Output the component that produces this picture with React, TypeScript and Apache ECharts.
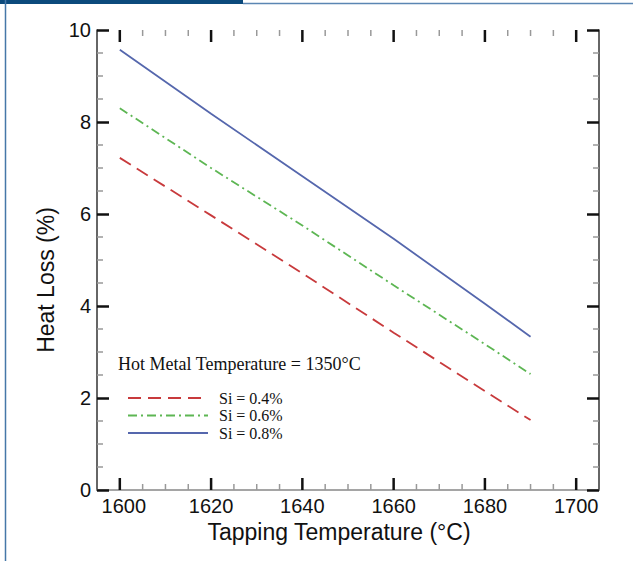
import React, { useEffect, useRef } from "react";
import * as echarts from "echarts";

// Tapping temperature (°C) sample points
const temps = [1600, 1620, 1640, 1660, 1680, 1690];
// Heat loss (%) for each silicon content
const si04 = [7.22, 5.97, 4.71, 3.42, 2.15, 1.52];
const si06 = [8.3, 7.0, 5.75, 4.45, 3.17, 2.52];
const si08 = [9.57, 8.18, 6.82, 5.46, 4.05, 3.33];

const seriesNames = ["Si = 0.4%", "Si = 0.6%", "Si = 0.8%"];
const legendTitle = "Hot Metal Temperature = 1350°C";

const X_MIN = 1595;
const X_MAX = 1705;
const Y_MIN = 0;
const Y_MAX = 10;
const xMajorTicks = [1600, 1620, 1640, 1660, 1680, 1700];
const xMinorTicks = [
  1605, 1610, 1615, 1625, 1630, 1635, 1645, 1650, 1655, 1665, 1670, 1675, 1685,
  1690, 1695,
];

const SANS = "'Liberation Sans', Arial, Helvetica, sans-serif";
const SERIF = "'Liberation Serif', 'Times New Roman', serif";

export default function App() {
  const ref = useRef<HTMLDivElement>(null);

  useEffect(() => {
    if (!ref.current) return;
    const chart = echarts.init(ref.current, undefined, { renderer: "svg" });

    const pair = (ys: number[]) => temps.map((t, i) => [t, ys[i]]);
    const tickData = [
      ...xMajorTicks.map((v) => [v, 1]),
      ...xMinorTicks.map((v) => [v, 0]),
    ];

    const yAxisBase = {
      type: "value",
      min: Y_MIN,
      max: Y_MAX,
      interval: 2,
      splitLine: { show: false },
      axisLine: { show: true, lineStyle: { color: "#333", width: 1.5 } },
      axisTick: {
        show: true,
        inside: true,
        length: 12,
        lineStyle: { color: "#111", width: 2.5 },
      },
      minorTick: {
        show: true,
        splitNumber: 4,
        length: 6,
        lineStyle: { color: "#999", width: 1.5 },
      },
    };

    chart.setOption({
      animation: false,
      backgroundColor: "#fff",
      grid: { left: 97, right: 34, top: 30, bottom: 71, containLabel: false },
      graphic: [
        {
          type: "rect",
          shape: { x: 0, y: 0, width: 243, height: 4 },
          style: { fill: "#0c4a7c" },
          silent: true,
        },
        {
          type: "line",
          shape: { x1: 243, y1: 3.5, x2: 633, y2: 3.5 },
          style: { stroke: "#5b86b3", lineWidth: 1.5 },
          silent: true,
        },
        {
          type: "line",
          shape: { x1: 5.5, y1: 0, x2: 5.5, y2: 561 },
          style: { stroke: "#4577a8", lineWidth: 1.5 },
          silent: true,
        },
        {
          type: "text",
          left: 118,
          top: 355,
          style: {
            text: legendTitle,
            font: `18px ${SERIF}`,
            fill: "#111",
          },
          silent: true,
        },
      ],
      legend: {
        data: seriesNames,
        orient: "vertical",
        left: 127,
        top: 390,
        itemWidth: 80,
        itemHeight: 14,
        itemGap: 1.5,
        padding: 0,
        selectedMode: false,
        itemStyle: {
          color: "transparent",
          borderColor: "transparent",
          borderWidth: 0,
          opacity: 0,
        },
        textStyle: {
          fontFamily: SERIF,
          fontSize: 16,
          color: "#111",
          lineHeight: 16,
          padding: [0, 0, 0, 6],
        },
      },
      xAxis: [
        {
          type: "value",
          min: X_MIN,
          max: X_MAX,
          position: "bottom",
          name: "Tapping Temperature (°C)",
          nameLocation: "middle",
          nameGap: 27,
          nameTextStyle: {
            fontFamily: SANS,
            fontSize: 23,
            color: "#111",
            padding: [0, 18, 0, 0],
          },
          splitLine: { show: false },
          axisLine: { show: true, lineStyle: { color: "#333", width: 1.5 } },
          axisTick: { show: false },
          axisLabel: {
            fontFamily: SANS,
            fontSize: 20,
            color: "#111",
            margin: 6,
            showMinLabel: false,
            showMaxLabel: false,
            formatter: (v: number) =>
              v % 20 !== 0 ? "" : v === 1600 ? `{first|${v}}` : String(v),
            rich: {
              first: {
                fontFamily: SANS,
                fontSize: 20,
                color: "#111",
                padding: [0, 0, 0, 8],
              },
            },
          },
        },
        {
          type: "value",
          min: X_MIN,
          max: X_MAX,
          position: "top",
          splitLine: { show: false },
          axisLine: { show: true, lineStyle: { color: "#bbb", width: 1.5 } },
          axisTick: { show: false },
          axisLabel: { show: false },
        },
      ],
      yAxis: [
        {
          ...yAxisBase,
          position: "left",
          name: "Heat Loss (%)",
          nameLocation: "middle",
          nameGap: 35,
          nameTextStyle: {
            fontFamily: SANS,
            fontSize: 23,
            color: "#111",
            padding: [0, 40, 0, 0],
          },
          axisLabel: {
            fontFamily: SANS,
            fontSize: 20,
            color: "#111",
            margin: 6,
          },
        },
        {
          ...yAxisBase,
          position: "right",
          axisLabel: { show: false },
        },
      ],
      series: [
        {
          name: seriesNames[0],
          type: "line",
          data: pair(si04),
          symbol: "none",
          color: "#c83a3c",
          lineStyle: { color: "#c83a3c", width: 1.8, type: [13, 7] },
        },
        {
          name: seriesNames[1],
          type: "line",
          data: pair(si06),
          symbol: "none",
          color: "#5db653",
          lineStyle: { color: "#5db653", width: 1.8, type: [9, 4, 2, 4] },
        },
        {
          name: seriesNames[2],
          type: "line",
          data: pair(si08),
          symbol: "none",
          color: "#5567ad",
          lineStyle: { color: "#5567ad", width: 1.8, type: "solid" },
        },
        {
          name: "xticks",
          type: "custom",
          silent: true,
          clip: false,
          data: tickData,
          renderItem: (params: any, api: any) => {
            const x = api.value(0);
            const major = api.value(1) === 1;
            const b = api.coord([x, Y_MIN]);
            const t = api.coord([x, Y_MAX]);
            const len = major ? 12 : 6;
            const style = {
              stroke: major ? "#111" : "#999",
              lineWidth: major ? 2.5 : 1.5,
            };
            return {
              type: "group",
              children: [
                {
                  type: "line",
                  shape: { x1: b[0], y1: b[1], x2: b[0], y2: b[1] - len },
                  style,
                },
                {
                  type: "line",
                  shape: { x1: t[0], y1: t[1], x2: t[0], y2: t[1] + len },
                  style,
                },
              ],
            };
          },
        },
      ],
    });

    return () => chart.dispose();
  }, []);

  return (
    <div
      ref={ref}
      style={{ position: "absolute", left: 0, top: 0, width: 633, height: 561 }}
    />
  );
}
